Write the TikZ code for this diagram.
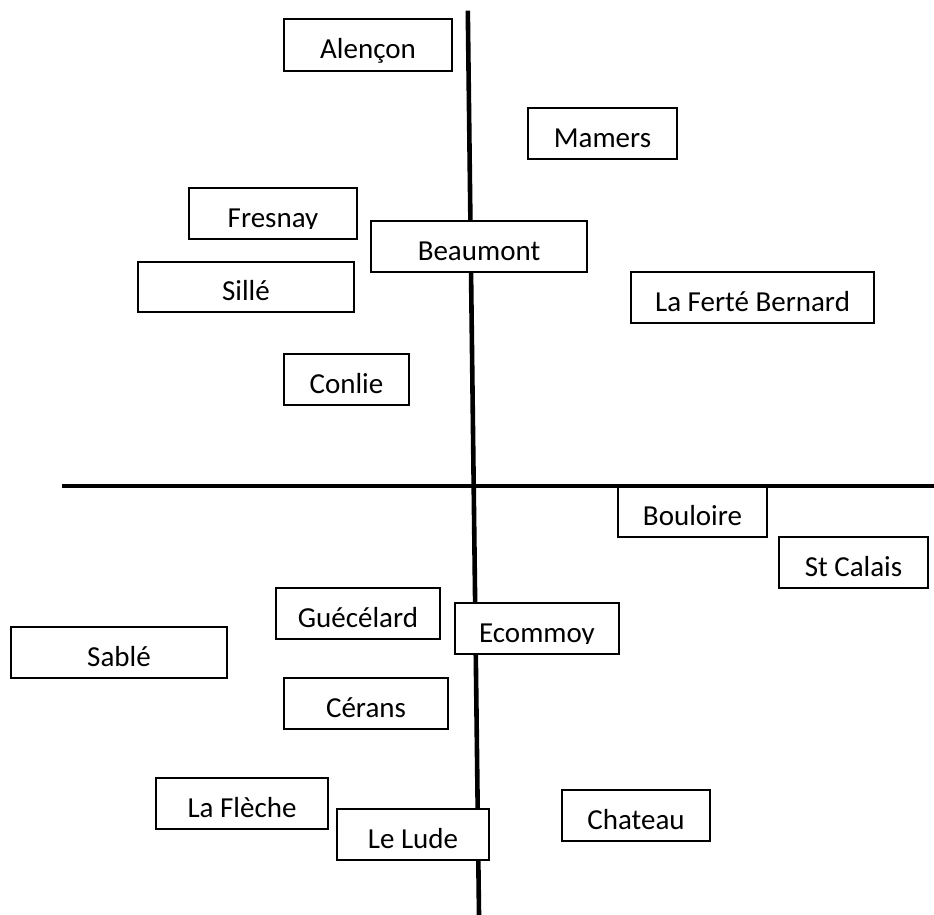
\documentclass[tikz,border=0pt]{standalone}
\usepackage{fontspec}
\setmainfont{Carlito}
\tikzset{
  axisline/.style={line width=4.6pt, black},
  cbox/.style={draw=black, fill=white, line width=1.7pt, inner sep=0pt, outer sep=0pt},
  ctext/.style={anchor=base, inner sep=0pt, font=\fontsize{29}{34}\selectfont, text=black}
}
\newcommand{\citybox}[6]{%
  \node[cbox, minimum width={#4-#2}, minimum height={#5-#3}] (#1) at ({(#2+#4)/2},{(#3+#5)/2}) {};
  \node[ctext] (#1-t) at ({(#2+#4)/2},{#5-12}) {#6};
}
\newcommand{\clipcitybox}[6]{%
  \node[cbox, minimum width={#4-#2}, minimum height={#5-#3}] (#1) at ({(#2+#4)/2},{(#3+#5)/2}) {};
  \begin{scope}
    \clip (#2,#3) rectangle (#4,{#5-11});
    \node[ctext] (#1-t) at ({(#2+#4)/2},{#5-12}) {#6};
  \end{scope}
}
\begin{document}
\begin{tikzpicture}[x=1pt,y=-1pt]
  \useasboundingbox[fill=white] (0,0) rectangle (934,915);
  % axes
  \coordinate (vtop) at (467.8,10.7);
  \coordinate (vbot) at (479,915);
  \coordinate (hleft) at (62,486);
  \coordinate (hright) at (934,486);
  \draw[axisline] (vtop) -- (vbot);
  \draw[axisline] (hleft) -- (hright);
  % boxes
  \citybox{alencon}{284}{19}{452}{71}{Alençon}
  \citybox{mamers}{528}{108}{677}{159}{Mamers}
  \clipcitybox{fresnay}{189}{188}{357}{239}{Fresnay}
  \citybox{beaumont}{371}{221}{587}{272}{Beaumont}
  \citybox{sille}{138}{262}{354}{312}{Sillé}
  \citybox{laferte}{631}{272}{874}{323}{La Ferté Bernard}
  \citybox{conlie}{284}{354}{409}{405}{Conlie}
  \citybox{bouloire}{618}{487}{767}{537}{Bouloire}
  \citybox{stcalais}{779}{537}{928}{588}{St Calais}
  \citybox{guecelard}{276}{588}{440}{639}{Guécélard}
  \clipcitybox{ecommoy}{455}{603}{619}{654}{Ecommoy}
  \citybox{sable}{11}{627}{227}{678}{Sablé}
  \citybox{cerans}{284}{678}{448}{729}{Cérans}
  \citybox{lafleche}{156}{778}{328}{829}{La Flèche}
  \citybox{lelude}{337}{809}{489}{860}{Le Lude}
  \citybox{chateau}{562}{790}{710}{841}{Chateau}
  % horizontal line drawn over Bouloire top edge
  \draw[axisline] (hleft) -- (hright);
\end{tikzpicture}
\end{document}
